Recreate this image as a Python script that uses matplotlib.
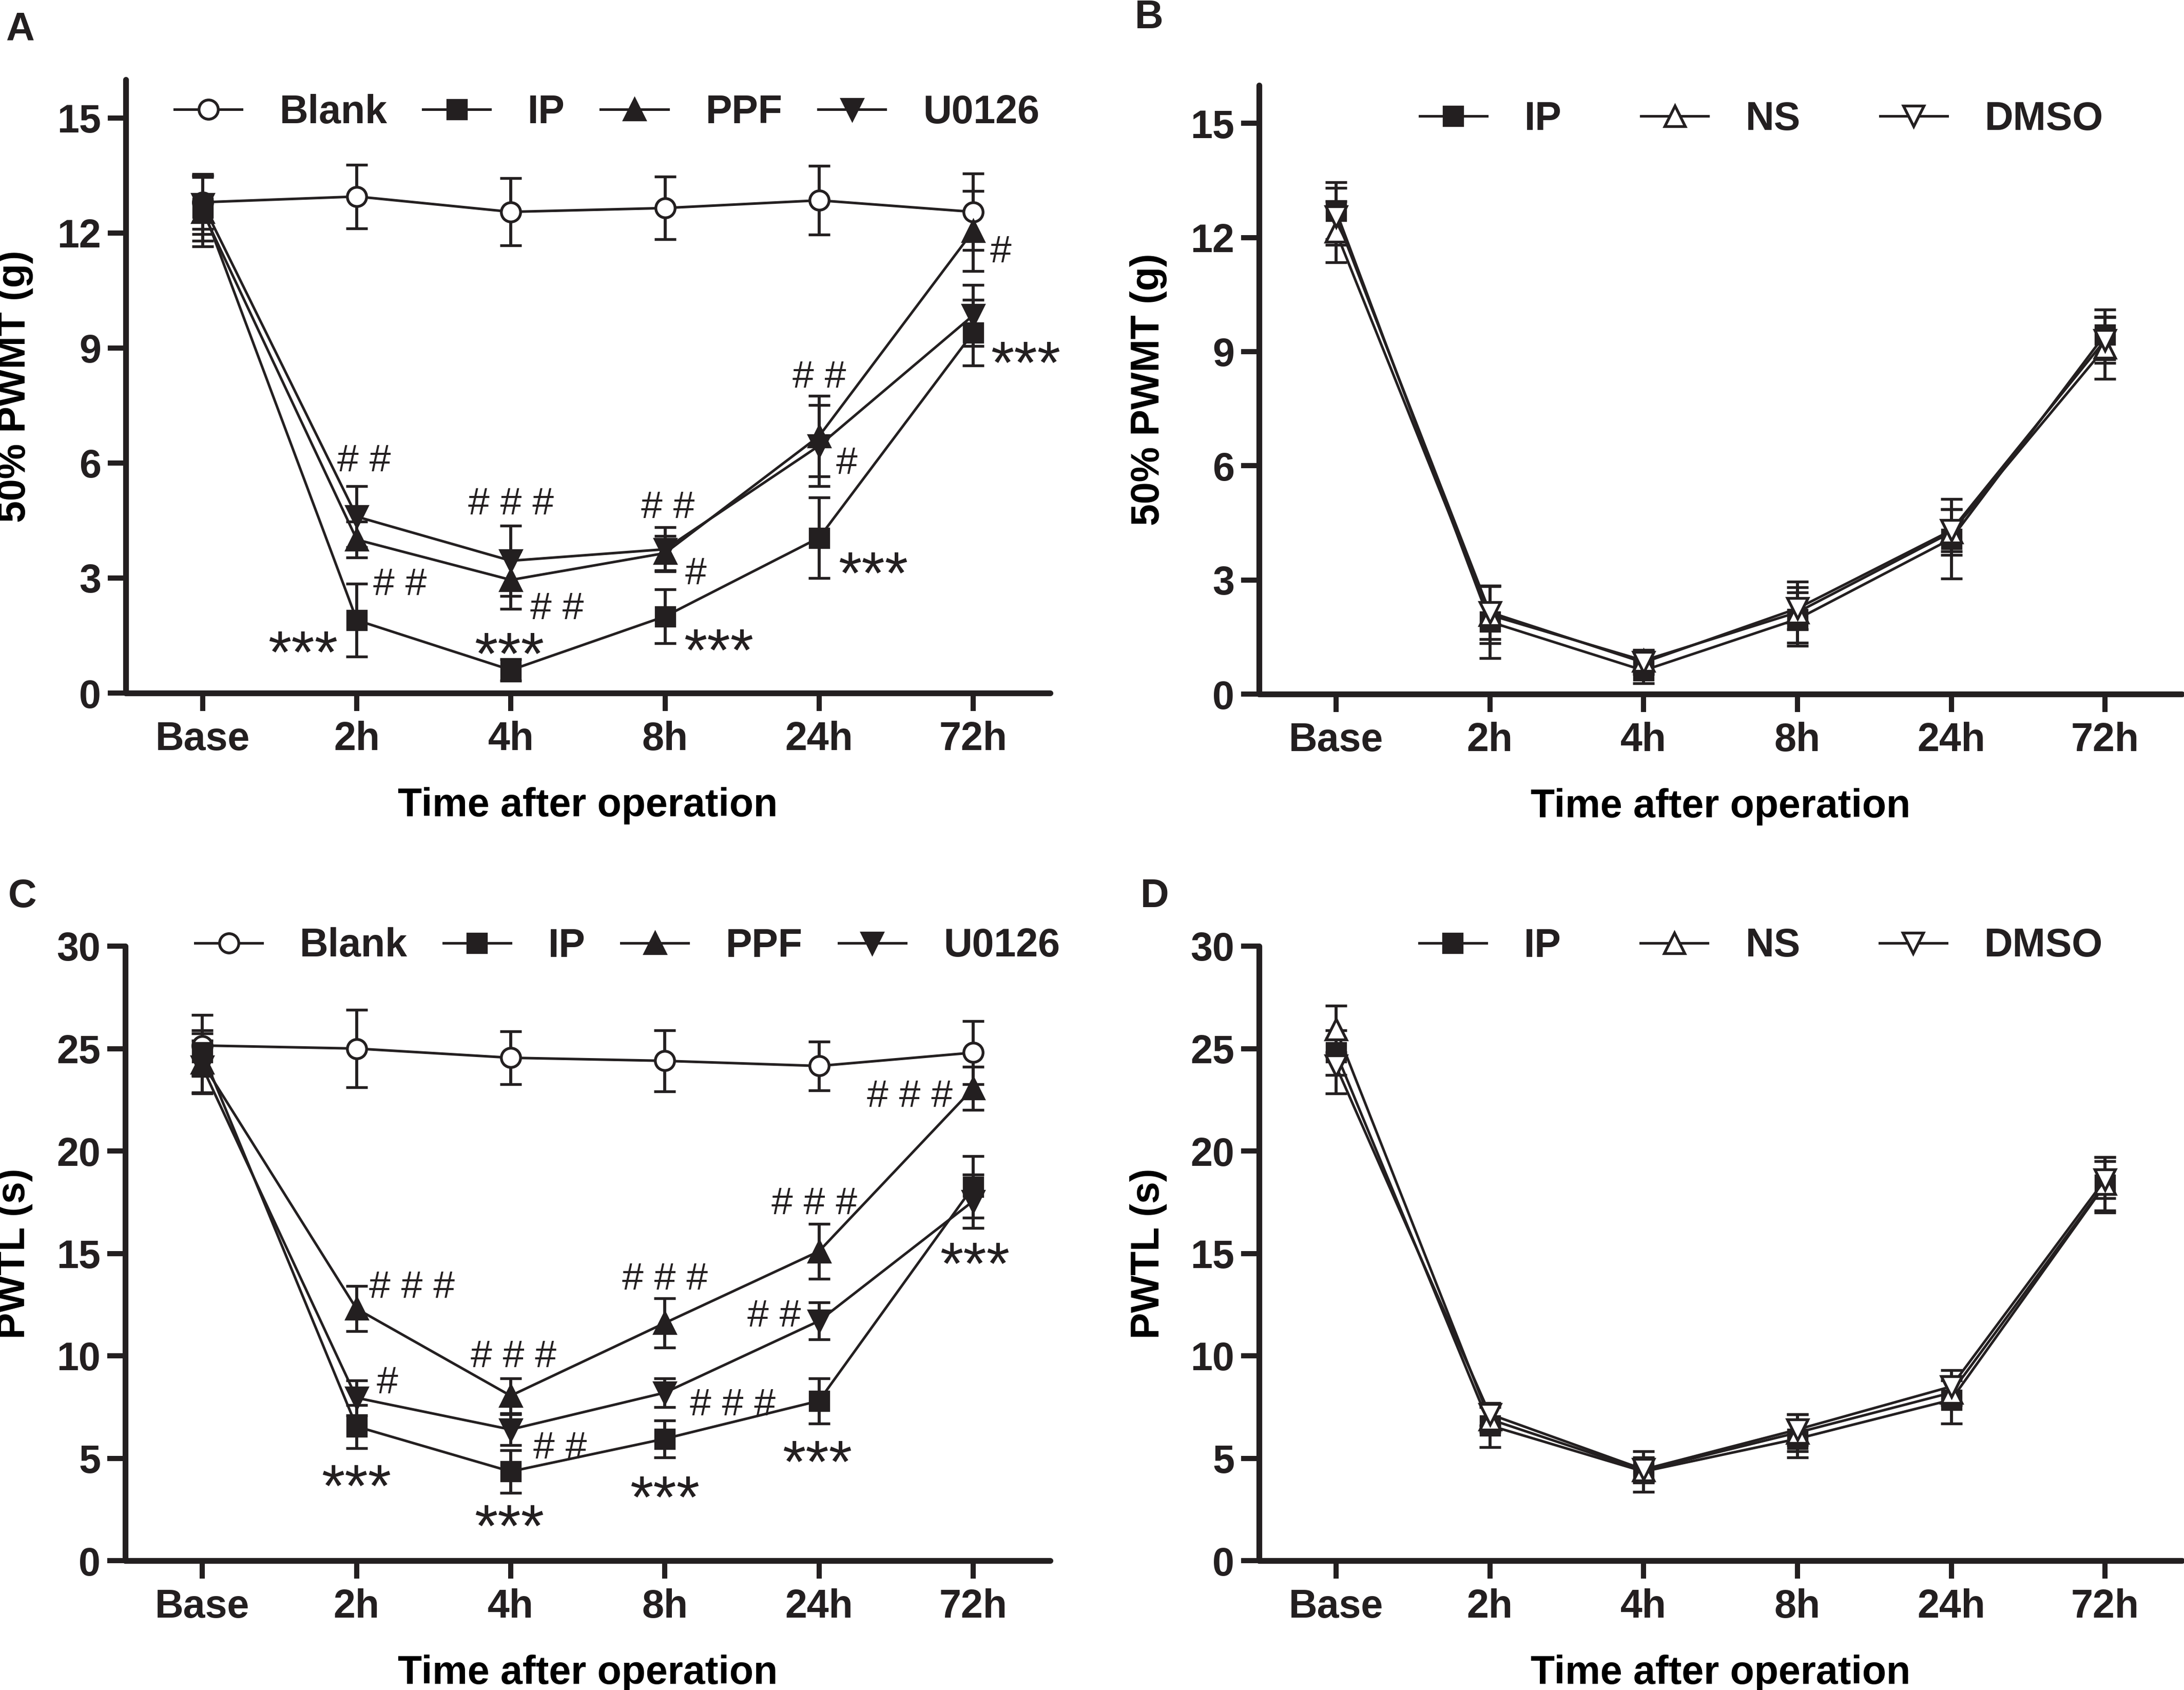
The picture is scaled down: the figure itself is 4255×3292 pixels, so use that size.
"""Four-panel PWMT / PWTL time-course figure (A-D), GraphPad-like styling."""
import matplotlib
matplotlib.use("Agg")
import matplotlib.pyplot as plt

W, H, DPI = 4255, 3292, 300
INK = "#231f20"

times = ["Base", "2h", "4h", "8h", "24h", "72h"]

# --- A: 50% PWMT (g), treatment groups -------------------------------------
a_blank = [12.8, 12.95, 12.55, 12.65, 12.85, 12.55]
a_blank_sd = [0.7, 0.83, 0.88, 0.82, 0.9, 1.0]
a_ip = [12.65, 1.9, 0.6, 2.0, 4.05, 9.4]
a_ip_sd = [0.85, 0.95, 0.28, 0.7, 1.05, 0.86]
a_ppf = [12.55, 4.0, 2.95, 3.65, 6.7, 12.05]
a_ppf_sd = [0.9, 0.47, 0.75, 0.45, 1.05, 1.05]
a_u0126 = [12.75, 4.6, 3.45, 3.75, 6.45, 9.85]
a_u0126_sd = [0.78, 0.8, 0.92, 0.58, 1.06, 0.8]

# --- B: 50% PWMT (g), vehicle controls -------------------------------------
b_ip = [12.7, 1.9, 0.62, 1.97, 4.08, 9.45]
b_ip_sd = [0.75, 0.95, 0.33, 0.7, 1.05, 0.65]
b_ns = [12.15, 2.08, 0.88, 2.15, 4.25, 9.1]
b_ns_sd = [0.8, 0.75, 0.28, 0.8, 0.6, 0.82]
b_dmso = [12.55, 2.15, 0.83, 2.25, 4.3, 9.3]
b_dmso_sd = [0.75, 0.7, 0.3, 0.55, 0.55, 0.6]

# --- C: PWTL (s), treatment groups -----------------------------------------
c_blank = [25.15, 25.0, 24.55, 24.4, 24.15, 24.8]
c_blank_sd = [1.5, 1.9, 1.3, 1.5, 1.2, 1.55]
c_ip = [24.8, 6.55, 4.35, 5.95, 7.8, 18.25]
c_ip_sd = [1.1, 1.05, 1.05, 0.9, 1.1, 1.5]
c_ppf = [24.3, 12.3, 8.05, 11.6, 15.1, 23.05]
c_ppf_sd = [1.45, 1.1, 0.85, 1.2, 1.35, 1.05]
c_u0126 = [24.1, 7.95, 6.4, 8.2, 11.7, 17.55]
c_u0126_sd = [1.3, 0.85, 0.75, 0.7, 0.9, 1.3]

# --- D: PWTL (s), vehicle controls -----------------------------------------
d_ip = [24.8, 6.6, 4.35, 5.95, 7.85, 18.35]
d_ip_sd = [1.1, 1.05, 1.0, 0.9, 1.15, 1.35]
d_ns = [25.95, 6.9, 4.4, 6.25, 8.2, 18.4]
d_ns_sd = [1.15, 0.6, 0.6, 0.9, 0.6, 1.3]
d_dmso = [24.15, 7.15, 4.45, 6.4, 8.5, 18.6]
d_dmso_sd = [1.35, 0.55, 0.6, 0.75, 0.8, 0.9]

# significance marks: (text, x index, y value)
a_marks = [("# #", 1.045, 6.14), ("# #", 1.28, 2.92), ("***", 0.65, 1.41),
           ("# # #", 2.0, 5.02), ("# #", 2.30, 2.29), ("***", 1.99, 1.38),
           ("# #", 3.02, 4.93), ("#", 3.2, 3.2), ("***", 3.35, 1.47),
           ("# #", 4.0, 8.33), ("#", 4.18, 6.08), ("***", 4.35, 3.48),
           ("#", 5.18, 11.59), ("***", 5.34, 8.96)]
c_marks = [("# # #", 1.36, 13.5), ("#", 1.2, 8.84), ("***", 1.0, 4.29),
           ("# # #", 2.02, 10.13), ("# #", 2.32, 5.66), ("***", 1.99, 2.35),
           ("# # #", 3.0, 13.9), ("# # #", 3.44, 7.76), ("***", 3.0, 3.76),
           ("# # #", 3.97, 17.6), ("# #", 3.71, 12.1), ("***", 3.99, 5.47),
           ("# # #", 4.59, 22.84), ("***", 5.01, 15.16)]

# marker, face colour, size
STYLE = {
    "Blank": ("o", "white", 9.0),
    "IP": ("s", INK, 8.5),
    "PPF": ("^", INK, 9.5),
    "U0126": ("v", INK, 9.5),
    "NS": ("^", "white", 9.5),
    "DMSO": ("v", "white", 9.5),
}

FS = 18.5
HASH_PT = 18.0
STAR_PT = 28.0

plt.rcParams.update({
    "font.family": ["Liberation Sans", "DejaVu Sans"],
    "font.weight": "bold",
    "axes.labelweight": "bold",
    "font.size": FS,
    "text.color": INK,
    "axes.edgecolor": INK,
    "xtick.color": INK,
    "ytick.color": INK,
})


def rect(left, top, right, bottom):
    """pixel box (top-left origin) -> figure fraction rect"""
    return [left / W, 1 - bottom / H, (right - left) / W, (bottom - top) / H]


def mark(ax, s, x, y):
    if "*" in s:
        fs, lift = STAR_PT, 0.57
    else:
        fs, lift = HASH_PT, 0.36
    ax.annotate(s, (x, y), xytext=(0, -lift * fs), textcoords="offset points",
                ha="center", va="baseline", fontsize=fs, fontweight="normal",
                color=INK, annotation_clip=False)


def panel(ax, series, ylim, yticks, ylabel, leg_xy, colsp, marks=()):
    xs = list(range(len(times)))
    handles, names = [], []
    for name, mean, sd in series:
        mk, face, ms = STYLE[name]
        cont = ax.errorbar(xs, mean, yerr=sd, color=INK, lw=1.2, marker=mk, ms=ms,
                           mfc=face, mec=INK, mew=1.3, elinewidth=1.4, capsize=5,
                           capthick=1.6)
        handles.append(cont[0])
        names.append(name)
    for s, x, y in marks:
        mark(ax, s, x, y)

    ax.set_xlim(-0.5, 5.5)
    ax.set_ylim(*ylim)
    ax.set_yticks(yticks)
    ax.set_xticks(xs)
    ax.set_xticklabels(times)
    for side in ("top", "right"):
        ax.spines[side].set_visible(False)
    for side in ("left", "bottom"):
        ax.spines[side].set_linewidth(2.7)
        ax.spines[side].set_capstyle("round")
    ax.tick_params(direction="out", length=8.5, width=2.4, labelsize=FS)
    ax.tick_params(axis="y", pad=3)
    ax.tick_params(axis="x", pad=4.5)
    ax.set_ylabel(ylabel, fontsize=FS, labelpad=11)
    ax.set_xlabel("Time after operation", fontsize=FS, labelpad=13.5)
    ax.legend(handles, names, loc="center left", bbox_to_anchor=leg_xy,
              ncol=len(handles), frameon=False, handlelength=1.7,
              handletextpad=0.95, columnspacing=colsp, borderpad=0,
              borderaxespad=0, fontsize=FS)


fig = plt.figure(figsize=(W / DPI, H / DPI), dpi=DPI)

ax_a = fig.add_axes(rect(245, 155, 2046, 1350))
panel(ax_a, [("Blank", a_blank, a_blank_sd), ("IP", a_ip, a_ip_sd),
             ("PPF", a_ppf, a_ppf_sd), ("U0126", a_u0126, a_u0126_sd)],
      (0, 16), range(0, 16, 3), "50% PWMT (g)", (0.053, 0.946), 0.9, a_marks)

ax_b = fig.add_axes(rect(2453, 166, 4251, 1352))
panel(ax_b, [("IP", b_ip, b_ip_sd), ("NS", b_ns, b_ns_sd), ("DMSO", b_dmso, b_dmso_sd)],
      (0, 16), range(0, 16, 3), "50% PWMT (g)", (0.174, 0.944), 2.0)

ax_c = fig.add_axes(rect(244, 1843, 2046, 3040))
panel(ax_c, [("Blank", c_blank, c_blank_sd), ("IP", c_ip, c_ip_sd),
             ("PPF", c_ppf, c_ppf_sd), ("U0126", c_u0126, c_u0126_sd)],
      (0, 30), range(0, 31, 5), "PWTL (s)", (0.0755, 1.0), 0.9, c_marks)

ax_d = fig.add_axes(rect(2453, 1843, 4251, 3040))
panel(ax_d, [("IP", d_ip, d_ip_sd), ("NS", d_ns, d_ns_sd), ("DMSO", d_dmso, d_dmso_sd)],
      (0, 30), range(0, 31, 5), "PWTL (s)", (0.1735, 1.0), 2.0)

# panel letters (left, baseline) in pixels
for letter, px, py in [("A", 11, 79), ("B", 2211, 55), ("C", 16, 1767), ("D", 2222, 1767)]:
    fig.text(px / W, 1 - py / H, letter, ha="left", va="baseline", fontsize=FS,
             fontweight="bold", color=INK)

fig.savefig("out.png", dpi=DPI)
